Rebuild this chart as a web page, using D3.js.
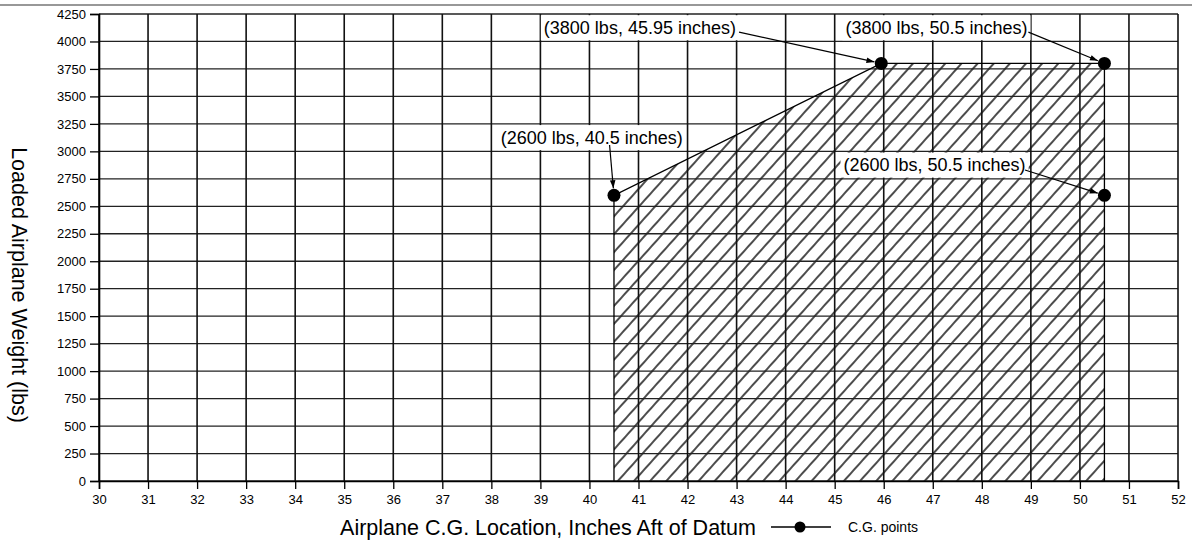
<!DOCTYPE html>
<html><head><meta charset="utf-8">
<script src="https://cdn.jsdelivr.net/npm/d3@7"></script>
<style>body{margin:0;background:#fff}svg{display:block;font-family:Arial,"Liberation Sans",sans-serif}</style>
</head><body><svg id="c" width="1192" height="543"></svg>
<script>
// ---- data ----
const xTicks = d3.range(30, 53, 1);
const yTicks = d3.range(0, 4251, 250);
const envelopeX = [40.5, 40.5, 45.95, 50.5, 50.5];
const envelopeY = [0, 2600, 3800, 3800, 0];
const cgX = [40.5, 45.95, 50.5, 50.5];
const cgY = [2600, 3800, 3800, 2600];
const labelText = ["(2600 lbs, 40.5 inches)", "(3800 lbs, 45.95 inches)", "(3800 lbs, 50.5 inches)", "(2600 lbs, 50.5 inches)"];
const labelX = [38.19, 39.07, 45.22, 45.18];
const labelY = [3125, 4125, 4125, 2875];
const arrowFromX = [40.41, 43.05, 48.95, 48.88];
const arrowFromY = [3058, 4085, 4085, 2830];

const svg = d3.select("#c");
const x = d3.scaleLinear().domain([30, 52]).range([99, 1178]);
const y = d3.scaleLinear().domain([0, 4250]).range([481, 14]);

// scan edge line at top
svg.append("line").attr("x1", 0).attr("x2", 1192).attr("y1", 5).attr("y2", 5).attr("stroke", "#333").attr("stroke-width", 1.2);

const defs = svg.append("defs");
const pat = defs.append("pattern").attr("id", "hatch").attr("patternUnits", "userSpaceOnUse")
  .attr("width", 12).attr("height", 12).attr("patternTransform", "rotate(42)");
pat.append("line").attr("x1", 1).attr("y1", 0).attr("x2", 1).attr("y2", 12).attr("stroke", "#000").attr("stroke-width", 1.4);
defs.append("marker").attr("id", "arr").attr("viewBox", "0 0 10 10").attr("refX", 10).attr("refY", 5)
  .attr("markerWidth", 13).attr("markerHeight", 8).attr("markerUnits", "userSpaceOnUse").attr("orient", "auto")
  .append("path").attr("d", "M0,1.5 L10,5 L0,8.5 Z").attr("fill", "#000");

// hatched envelope
const pts = envelopeX.map((d, i) => [x(d), y(envelopeY[i])]);
svg.append("path").attr("d", d3.line()(pts) + "Z").attr("fill", "url(#hatch)").attr("stroke", "none");

// grid
svg.append("g").selectAll("line").data(yTicks).join("line")
  .attr("x1", x(30)).attr("x2", x(52)).attr("y1", d => y(d)).attr("y2", d => y(d))
  .attr("stroke", "#222").attr("stroke-width", 1.3);
svg.append("g").selectAll("line").data(xTicks).join("line")
  .attr("x1", d => x(d)).attr("x2", d => x(d)).attr("y1", y(0)).attr("y2", y(4250))
  .attr("stroke", "#111").attr("stroke-width", 1.6);

// envelope outline
svg.append("path").attr("d", d3.line()(pts)).attr("fill", "none").attr("stroke", "#000").attr("stroke-width", 1.3);

// axes
const xAxis = svg.append("g").attr("transform", `translate(0,${y(0)})`)
  .call(d3.axisBottom(x).tickValues(xTicks).tickSize(8).tickPadding(6).tickFormat(d3.format("d")));
const yAxis = svg.append("g").attr("transform", `translate(${x(30)},0)`)
  .call(d3.axisLeft(y).tickValues(yTicks).tickSize(9).tickPadding(4).tickFormat(d3.format("d")));
[xAxis, yAxis].forEach(a => {
  a.select(".domain").attr("stroke", "#000").attr("stroke-width", 1.6);
  a.selectAll(".tick line").attr("stroke", "#000").attr("stroke-width", 1.3);
  a.selectAll("text").attr("fill", "#000").attr("font-size", 13).attr("font-family", "Arial, 'Liberation Sans', sans-serif");
});

// label boxes + text
const lab = svg.append("g");
labelText.forEach((t, i) => {
  const g = lab.append("g");
  const txt = g.append("text").attr("x", x(labelX[i])).attr("y", y(labelY[i]) + 6)
    .attr("font-size", 18).attr("fill", "#000").text(t);
  const bb = txt.node().getBBox();
  const top = y(labelY[i] + 125) + 1.2, bot = y(labelY[i] - 125) - 1.2;
  g.insert("rect", "text").attr("x", bb.x - 3).attr("y", top).attr("width", bb.width + 6).attr("height", bot - top).attr("fill", "#fff");
});

// arrows
svg.append("g").selectAll("line").data(cgX).join("line")
  .attr("x1", (d, i) => x(arrowFromX[i])).attr("y1", (d, i) => y(arrowFromY[i]))
  .attr("x2", (d, i) => {
    const x1 = x(arrowFromX[i]), y1 = y(arrowFromY[i]), x2 = x(d), y2 = y(cgY[i]);
    const L = Math.hypot(x2 - x1, y2 - y1); return x2 - (x2 - x1) / L * 7;
  })
  .attr("y2", (d, i) => {
    const x1 = x(arrowFromX[i]), y1 = y(arrowFromY[i]), x2 = x(d), y2 = y(cgY[i]);
    const L = Math.hypot(x2 - x1, y2 - y1); return y2 - (y2 - y1) / L * 7;
  })
  .attr("stroke", "#000").attr("stroke-width", 1.2).attr("marker-end", "url(#arr)");

// C.G. points
svg.append("g").selectAll("circle").data(cgX).join("circle")
  .attr("cx", d => x(d)).attr("cy", (d, i) => y(cgY[i])).attr("r", 6.5).attr("fill", "#000");

// axis titles
svg.append("text").attr("x", 548).attr("y", 535).attr("text-anchor", "middle").attr("font-size", 21.5).attr("fill", "#000")
  .text("Airplane C.G. Location, Inches Aft of Datum");
svg.append("text").attr("transform", "translate(12,285) rotate(90)").attr("text-anchor", "middle").attr("font-size", 21.5).attr("fill", "#000")
  .text("Loaded Airplane Weight (lbs)");

// legend
const lg = svg.append("g");
lg.append("line").attr("x1", 771).attr("x2", 831).attr("y1", 527).attr("y2", 527).attr("stroke", "#000").attr("stroke-width", 1.5);
lg.append("circle").attr("cx", 800).attr("cy", 527).attr("r", 5.5).attr("fill", "#000");
lg.append("text").attr("x", 848).attr("y", 532).attr("font-size", 14).attr("fill", "#000").text("C.G. points");
</script></body></html>
